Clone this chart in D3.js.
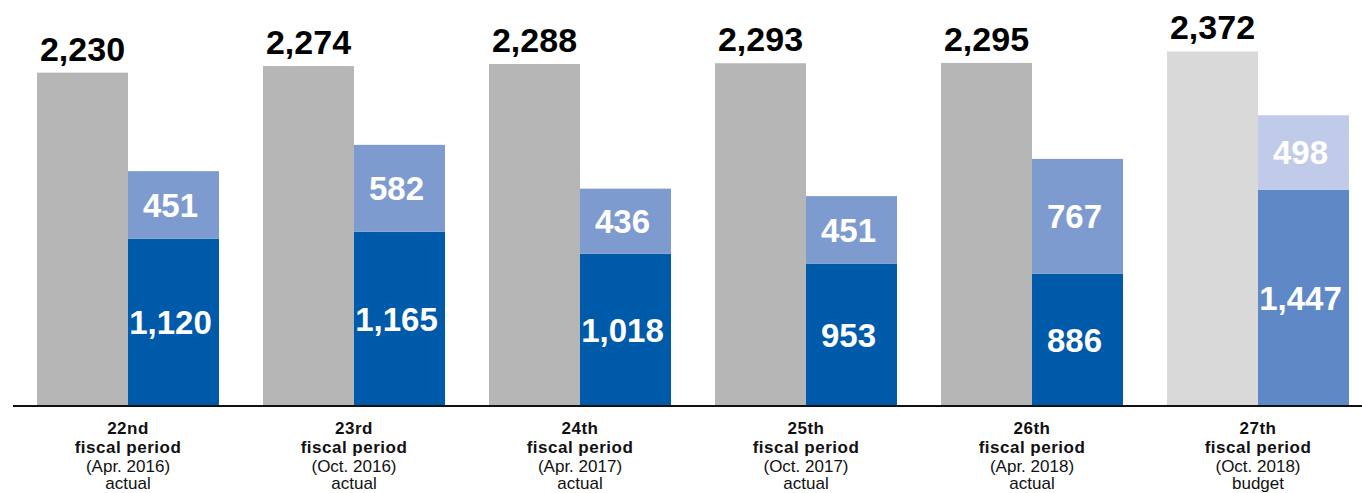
<!DOCTYPE html>
<html>
<head>
<meta charset="utf-8">
<script src="https://cdn.jsdelivr.net/npm/d3@7"></script>
<style>
  html, body { margin: 0; padding: 0; background: #fff; }
  svg { display: block; font-family: "Liberation Sans", Arial, Helvetica, sans-serif; }
</style>
</head>
<body>
<svg id="chart" width="1362" height="493"></svg>
<script>
// Fiscal periods shown along the x axis
const periods = ["22nd", "23rd", "24th", "25th", "26th", "27th"];
const periodDates = ["(Apr. 2016)", "(Oct. 2016)", "(Apr. 2017)", "(Oct. 2017)", "(Apr. 2018)", "(Oct. 2018)"];
const periodKinds = ["actual", "actual", "actual", "actual", "actual", "budget"];

// Total (grey bar)
const totals = [2230, 2274, 2288, 2293, 2295, 2372];
// Stacked bar: lower and upper segments
const lowerValues = [1120, 1165, 1018, 953, 886, 1447];
const upperValues = [451, 582, 436, 451, 767, 498];

const colors = {
  actual: { total: "#b5b6b5", lower: "#005aaa", upper: "#7e9bd0" },
  budget: { total: "#d9d9d9", lower: "#5f88c6", upper: "#bfcbe8" }
};

const fmt = d3.format(",");
const svg = d3.select("#chart");

const baseY = 406;
const y = d3.scaleLinear().domain([0, 2716]).range([baseY, 0]);

const x = d3.scaleBand()
  .domain(periods)
  .range([37, 1349])
  .paddingInner(44 / 226)
  .paddingOuter(0);

const inner = d3.scaleBand()
  .domain(["total", "stack"])
  .range([0, x.bandwidth()])
  .padding(0);

const groups = svg.selectAll("g.period")
  .data(periods.map((p, i) => ({
    p, i,
    total: totals[i], lower: lowerValues[i], upper: upperValues[i],
    kind: periodKinds[i]
  })))
  .join("g")
  .attr("class", "period")
  .attr("transform", d => `translate(${x(d.p)},0)`);

const bw = inner.bandwidth();

// Grey total bar
groups.append("rect")
  .attr("x", inner("total"))
  .attr("y", d => y(d.total))
  .attr("width", bw)
  .attr("height", d => baseY - y(d.total))
  .attr("fill", d => colors[d.kind].total);

// Lower stacked segment
groups.append("rect")
  .attr("x", inner("stack"))
  .attr("y", d => y(d.lower))
  .attr("width", bw)
  .attr("height", d => baseY - y(d.lower))
  .attr("fill", d => colors[d.kind].lower);

// Upper stacked segment
groups.append("rect")
  .attr("x", inner("stack"))
  .attr("y", d => y(d.lower + d.upper))
  .attr("width", bw)
  .attr("height", d => y(d.lower) - y(d.lower + d.upper))
  .attr("fill", d => colors[d.kind].upper);

// Total labels above grey bars
groups.append("text")
  .attr("x", inner("total") + bw / 2)
  .attr("y", d => y(d.total) - 12)
  .attr("text-anchor", "middle")
  .attr("font-size", 34)
  .attr("font-weight", "bold")
  .attr("fill", "#000")
  .text(d => fmt(d.total));

// Segment labels (white, vertically centred)
groups.append("text")
  .attr("x", inner("stack") + bw / 2 - 3)
  .attr("y", d => (y(0) + y(d.lower)) / 2 + 12)
  .attr("text-anchor", "middle")
  .attr("font-size", 33)
  .attr("font-weight", "bold")
  .attr("fill", "#fff")
  .text(d => fmt(d.lower));

groups.append("text")
  .attr("x", inner("stack") + bw / 2 - 3)
  .attr("y", d => (y(d.lower) + y(d.lower + d.upper)) / 2 + 12)
  .attr("text-anchor", "middle")
  .attr("font-size", 33)
  .attr("font-weight", "bold")
  .attr("fill", "#fff")
  .text(d => fmt(d.upper));

// Baseline
svg.append("line")
  .attr("x1", 13).attr("x2", 1362)
  .attr("y1", baseY).attr("y2", baseY)
  .attr("stroke", "#111")
  .attr("stroke-width", 2);

// Category labels
const labels = groups.append("text")
  .attr("text-anchor", "middle")
  .attr("font-size", 17)
  .attr("fill", "#111");

const cx = x.bandwidth() / 2;
labels.append("tspan").attr("x", cx).attr("y", 434)
  .attr("font-weight", "bold").attr("letter-spacing", 0.5).text(d => d.p);
labels.append("tspan").attr("x", cx).attr("y", 453)
  .attr("font-weight", "bold").attr("letter-spacing", 0.5).text("fiscal period");
labels.append("tspan").attr("x", cx).attr("y", 472)
  .text(d => periodDates[d.i]);
labels.append("tspan").attr("x", cx).attr("y", 489)
  .text(d => d.kind);
</script>
</body>
</html>
